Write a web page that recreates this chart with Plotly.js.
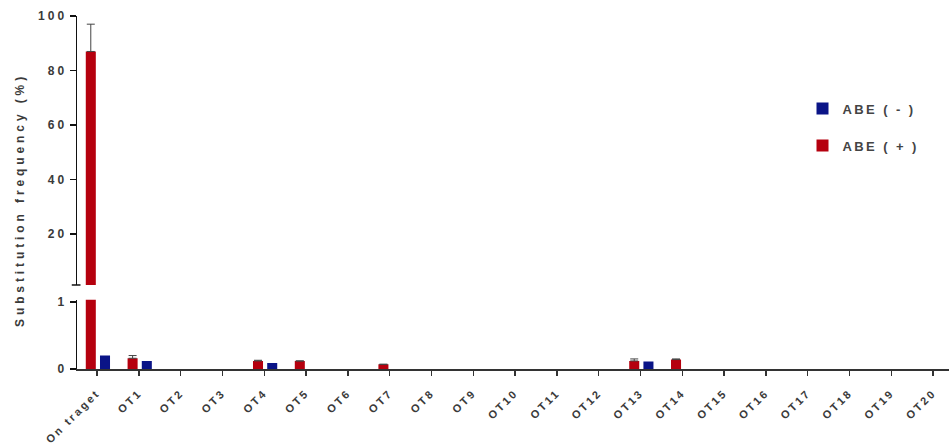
<!DOCTYPE html>
<html>
<head>
<meta charset="utf-8">
<script src="https://cdn.plot.ly/plotly-3.0.1.min.js"></script>
<style>
  html, body { margin: 0; padding: 0; background: #fff; }
  #chart { width: 949px; height: 448px; }
  .xtick text { letter-spacing: 2.5px; }
  .ytick text, .y2tick text { letter-spacing: 3px; }
  .legendtext { letter-spacing: 2.4px; }
  .annotation-text { letter-spacing: 3.9px; }
</style>
</head>
<body>
<div id="chart"></div>
<script>
// ---- data ----
const categories = ["On traget","OT1","OT2","OT3","OT4","OT5","OT6","OT7","OT8","OT9","OT10",
                    "OT11","OT12","OT13","OT14","OT15","OT16","OT17","OT18","OT19","OT20"];
const abeMinus = [0.20, 0.12, 0, 0, 0.09, 0, 0, 0, 0, 0, 0, 0, 0, 0.11, 0, 0, 0, 0, 0, 0, 0];
const abePlus  = [87, 0.16, 0, 0, 0.12, 0.12, 0, 0.07, 0, 0, 0, 0, 0, 0.12, 0.14, 0, 0, 0, 0, 0, 0];
const abePlusErr = [10, 0.04, null, null, 0.01, null, null, null, null, null, null,
                    null, null, 0.03, 0.01, null, null, null, null, null, null];
const zeros = categories.map(() => 0);
const lowerTicks = [0, 1];
const upperTicks = [20, 40, 60, 80, 100];

const RED = "#b5000e";
const BLUE = "#0a1487";
const FONT = "Liberation Sans, Arial, sans-serif";

function mk(vals, name, color, yaxis, showlegend, off, err) {
  const t = {
    type: "bar", x: categories, y: vals.map(v => (v === 0 ? null : v)), name: name,
    xaxis: "x", yaxis: yaxis,
    marker: { color: color, line: { width: 0 } },
    offset: off, width: 0.24,
    showlegend: showlegend, legendgroup: name,
    hoverinfo: "x+y"
  };
  if (err) {
    t.error_y = { type: "data", symmetric: false, array: err, arrayminus: zeros,
                  color: "#444", thickness: 1, width: 4, visible: true };
  }
  return t;
}

const traces = [
  mk(abeMinus, "ABE ( - )", BLUE, "y", true, 0.07, null),
  mk(abePlus, "ABE ( + )", RED, "y", true, -0.27, abePlusErr),
  mk(abeMinus, "ABE ( - )", BLUE, "y2", false, 0.07, null),
  mk(abePlus, "ABE ( + )", RED, "y2", false, -0.27, abePlusErr)
];

const xTickFont = { family: FONT, size: 11, color: "#3a3a3a", weight: "bold" };
const yTickFont = { family: FONT, size: 12, color: "#3a3a3a", weight: "bold" };

const layout = {
  width: 949, height: 448,
  margin: { l: 77, r: 0, t: 16, b: 79 },
  paper_bgcolor: "#fff", plot_bgcolor: "#fff",
  barmode: "overlay",
  showlegend: true,
  legend: {
    x: 0.832, y: 0.78, xanchor: "left", yanchor: "top",
    font: { family: FONT, size: 13, color: "#444", weight: "bold" },
    traceorder: "grouped", tracegroupgap: 17,
    itemwidth: 30,
    bgcolor: "rgba(0,0,0,0)"
  },
  xaxis: {
    anchor: "y", range: [-0.48, 20.38],
    showline: true, linecolor: "#333", linewidth: 2,
    ticks: "outside", ticklen: 5, tickwidth: 1.5, tickcolor: "#333",
    tickangle: -45, tickfont: xTickFont, ticklabelstandoff: 6,
    showgrid: false, zeroline: false
  },
  yaxis: {
    domain: [0, 0.196], range: [0, 1.03],
    tickvals: lowerTicks, ticktext: lowerTicks.map(String),
    showline: true, linecolor: "#111", linewidth: 1.5,
    ticks: "outside", ticklen: 6, tickwidth: 1.5, tickcolor: "#111",
    tickfont: yTickFont, showgrid: false, zeroline: false
  },
  yaxis2: {
    anchor: "x", domain: [0.238, 1], range: [1.4, 100],
    tickvals: upperTicks, ticktext: upperTicks.map(String),
    showline: true, linecolor: "#111", linewidth: 1.5,
    ticks: "outside", ticklen: 6, tickwidth: 1.5, tickcolor: "#111",
    tickfont: yTickFont, showgrid: false, zeroline: false
  },
  shapes: [
    { type: "line", xref: "paper", yref: "paper", x0: -0.006, x1: 0.004, y0: 0.238, y1: 0.238,
      line: { color: "#111", width: 1.5 } }
  ],
  annotations: [
    { text: "Substitution frequency (%)", xref: "paper", yref: "paper",
      x: -0.066, y: 0.48, xanchor: "center", yanchor: "middle", textangle: -90,
      showarrow: false, font: { family: FONT, size: 12, color: "#3a3a3a", weight: "bold" } }
  ]
};

Plotly.newPlot("chart", traces, layout, { displayModeBar: false, staticPlot: true });
</script>
</body>
</html>
